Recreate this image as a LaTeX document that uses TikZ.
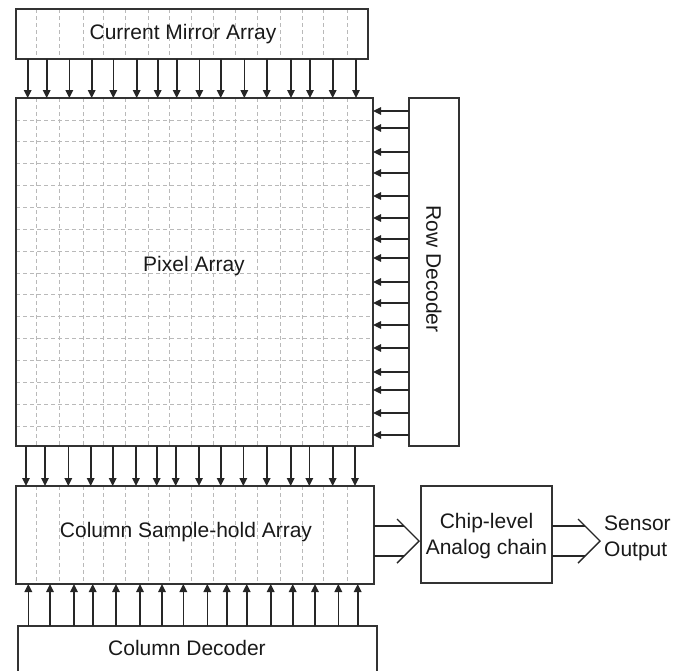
\documentclass[tikz,border=0pt]{standalone}
\usepackage{fontspec}
\setmainfont{Liberation Sans}
\usetikzlibrary{arrows.meta,calc}
\begin{document}
\begin{tikzpicture}[x=1pt,y=-1pt,
  box/.style={draw=black!80, line width=1.6pt, inner sep=0pt, outer sep=0pt, rectangle},
  lbl/.style={font=\fontsize{21}{26}\selectfont, inner sep=0pt, align=center, text=black!90},
  arr/.style={line width=1.6pt, draw=black!85, -{Triangle[length=8pt,width=7.5pt]}},
  bus/.style={line width=1.4pt, draw=black!85},
  gridline/.style={draw=gray!55, line width=0.9pt, dash pattern=on 4pt off 3pt}]
\useasboundingbox (0,0) rectangle (688,670);
% grid lines
\foreach \x in {36,59,83,103,125,148,169,191,213,235,257,280,302,323,347}{
  \draw[gridline] (\x,9) -- (\x,59);
  \draw[gridline] (\x,98) -- (\x,446);
  \draw[gridline] (\x,486) -- (\x,584);
}
\foreach \k in {0,...,14}{
  \draw[gridline] (16,{120+21.857*\k}) -- (373,{120+21.857*\k});
}
% boxes
\node[box, minimum width=352pt, minimum height=50pt] (cma) at (192,34) {};
\node[box, minimum width=357pt, minimum height=348pt] (pix) at (194.5,272) {};
\node[box, minimum width=50pt, minimum height=348pt] (rowdec) at (434,272) {};
\node[box, minimum width=358pt, minimum height=98pt] (csh) at (195,535) {};
\node[box, minimum width=359pt, minimum height=56pt] (coldec) at (197.5,654) {};
\node[box, minimum width=131pt, minimum height=97pt] (chip) at (486.5,534.5) {};
% labels
\node[lbl] (tcma) at (183,34) {Current Mirror Array};
\node[lbl] (tpix) at (194,266) {Pixel Array};
\node[lbl, rotate=-90] (trow) at (434,269) {Row Decoder};
\node[lbl] (tcsh) at (186,532) {Column Sample-hold Array};
\node[lbl] (tcol) at (187,648) {Column Decoder};
\node[lbl] (tchip) at (486.5,536) {Chip-level\\Analog chain};
\node[lbl, align=left, anchor=west] (tout) at (604,538) {Sensor\\Output};
% arrows current mirror -> pixel array
\foreach \x in {27.7,46.7,69.3,91.7,113.3,136.7,157.7,176.7,199.3,220.7,244.3,266.7,291,310,332.7,356}{
  \draw[arr] (\x,0 |- cma.south) -- (\x,0 |- pix.north);
}
% arrows pixel array -> column sample-hold
\foreach \x in {26,45,68.3,90.7,112.7,136,156.7,175.7,199,220.7,243.3,266.7,290.7,309.3,332.7,355}{
  \draw[arr] (\x,0 |- pix.south) -- (\x,0 |- csh.north);
}
% arrows column decoder -> column sample-hold
\foreach \x in {28.3,50,74,92.7,116,140,162,183.3,207.3,226.7,246.7,270.7,292.7,315,338.3,357.7}{
  \draw[arr] (\x,0 |- coldec.north) -- (\x,0 |- csh.south);
}
% arrows row decoder -> pixel array
\foreach \y in {111,128,152,173,196,218,239,258,282,303,325,348,372,390,413,435}{
  \draw[arr] (rowdec.west |- 0,\y) -- (pix.east |- 0,\y);
}
% bus arrows
\coordinate (tip1) at (419,541);
\coordinate (tip2) at (600,541);
\draw[bus] (csh.east |- 0,526) -- ($(tip1)+(-15,-15)$);
\draw[bus] (csh.east |- 0,556) -- ($(tip1)+(-15,15)$);
\draw[bus] ($(tip1)+(-22,-22)$) -- (tip1) -- ($(tip1)+(-22,22)$);
\draw[bus] (chip.east |- 0,526) -- ($(tip2)+(-15,-15)$);
\draw[bus] (chip.east |- 0,556) -- ($(tip2)+(-15,15)$);
\draw[bus] ($(tip2)+(-22,-22)$) -- (tip2) -- ($(tip2)+(-22,22)$);
\end{tikzpicture}
\end{document}
